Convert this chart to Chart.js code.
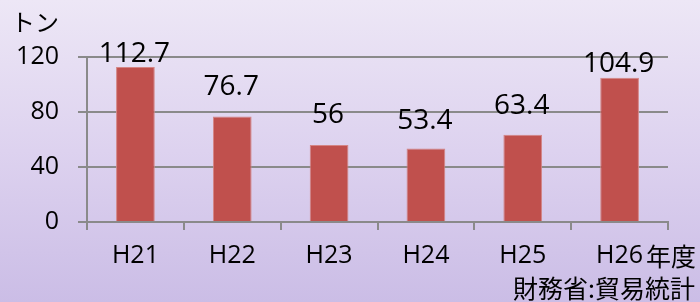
<!DOCTYPE html>
<html>
<head>
<meta charset="utf-8">
<script src="https://cdn.jsdelivr.net/npm/chart.js@4"></script>
<style>
  html, body { margin: 0; padding: 0; }
  body {
    width: 700px; height: 302px; overflow: hidden;
    background: linear-gradient(to bottom, #ede7f6 0%, #ddd2ef 50%, #cbbde6 100%);
  }
  #wrap { width: 700px; height: 302px; position: relative; }
</style>
</head>
<body>
<div id="wrap"><canvas id="c" width="700" height="302"></canvas></div>
<script>
const categories = ['H21', 'H22', 'H23', 'H24', 'H25', 'H26'];
const values = [112.7, 76.7, 56, 53.4, 63.4, 104.9];
const valueLabels = ['112.7', '76.7', '56', '53.4', '63.4', '104.9'];
const yTicks = [0, 40, 80, 120];
const unitLabel = 'トン';
const yearSuffix = '年度';
const sourceLabel = '財務省:貿易統計';

// label gaps above bar tops (px) – styling, not data
const labelGaps = [5, 22, 22, 20, 21, 6];

const LATIN = '"Open Sans", "Noto Sans", sans-serif';
const CJK = '"Noto Sans CJK JP", "Noto Sans", sans-serif';
const GRID = '#8a8a8a';

const textPlugin = {
  id: 'texts',
  afterDatasetsDraw(chart) {
    const ctx = chart.ctx;
    const meta = chart.getDatasetMeta(0);
    ctx.save();
    ctx.fillStyle = '#000';
    ctx.font = '28px ' + LATIN;
    ctx.textAlign = 'center';
    ctx.textBaseline = 'alphabetic';
    meta.data.forEach((bar, i) => {
      ctx.fillText(valueLabels[i], bar.x - 1, bar.y - labelGaps[i]);
    });
    ctx.restore();
  },
  afterDraw(chart) {
    const ctx = chart.ctx;
    ctx.save();
    ctx.fillStyle = '#000';
    ctx.textBaseline = 'middle';
    ctx.textAlign = 'left';
    ctx.font = '24px ' + CJK;
    ctx.fillText(unitLabel, 11, 22);
    ctx.font = '25px ' + CJK;
    ctx.fillText(yearSuffix, 646, 256);
    ctx.textAlign = 'right';
    ctx.font = '25px ' + CJK;
    ctx.fillText(sourceLabel, 695, 288);
    ctx.restore();
  }
};

new Chart(document.getElementById('c'), {
  type: 'bar',
  data: {
    labels: categories,
    datasets: [{
      data: values,
      backgroundColor: '#c0504d',
      borderColor: '#d48584',
      borderWidth: 1,
      categoryPercentage: 1,
      barPercentage: 0.4
    }]
  },
  options: {
    responsive: false,
    animation: false,
    devicePixelRatio: 1,
    layout: { padding: { top: 57, right: 32, left: 0, bottom: 0 } },
    plugins: { legend: { display: false }, tooltip: { enabled: false } },
    scales: {
      x: {
        offset: true,
        grid: {
          offset: true,
          drawOnChartArea: false,
          drawTicks: true,
          tickLength: 8,
          color: GRID,
          lineWidth: 2
        },
        border: { display: true, color: GRID, width: 2 },
        ticks: {
          color: '#000',
          font: { family: LATIN, size: 25 },
          padding: 11,
          maxRotation: 0,
          autoSkip: false
        },
        afterFit(scale) { scale.height = 80; }
      },
      y: {
        min: 0,
        max: 120,
        afterBuildTicks(scale) { scale.ticks = yTicks.map(v => ({ value: v })); },
        grid: {
          color: GRID,
          lineWidth: 2,
          drawTicks: true,
          tickLength: 9
        },
        border: { display: true, color: GRID, width: 2 },
        ticks: {
          color: '#000',
          font: { family: LATIN, size: 25 },
          padding: 19
        },
        afterFit(scale) { scale.width = 87; }
      }
    }
  },
  plugins: [textPlugin]
});
</script>
</body>
</html>
